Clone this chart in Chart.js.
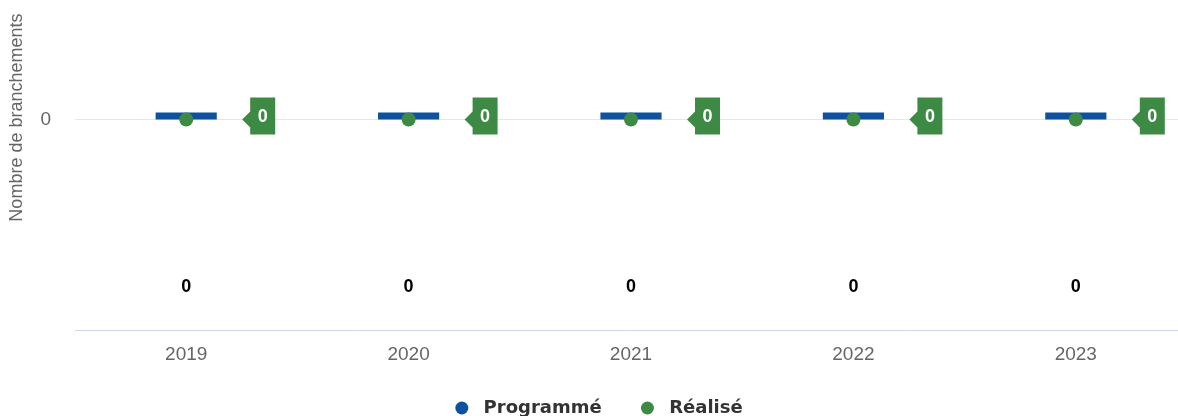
<!DOCTYPE html>
<html>
<head>
<meta charset="utf-8">
<script src="https://cdn.jsdelivr.net/npm/chart.js@4/dist/chart.umd.min.js"></script>
<style>
  html, body { margin: 0; padding: 0; background: #fff; overflow: hidden; }
  #wrap { width: 1194px; height: 416px; position: relative; }
</style>
</head>
<body>
<div id="wrap"><canvas id="c"></canvas></div>
<script>
const categories = ['2019', '2020', '2021', '2022', '2023'];
const programme = [0, 0, 0, 0, 0];
const realise = [0, 0, 0, 0, 0];
const yTicks = [0];
const yTitle = 'Nombre de branchements';

const BLUE = '#0d51a1';
const GREEN = '#3d8a45';
const FONT = '"Liberation Sans", Arial, Helvetica, sans-serif';

const overlay = {
  id: 'overlay',
  beforeDatasetDraw(chart, args) {
    if (args.index === 0) {
      chart.ctx.save();
      chart.ctx.translate(0, -3.5);
    }
  },
  afterDatasetDraw(chart, args) {
    if (args.index === 0) chart.ctx.restore();
  },
  afterDraw(chart) {
    const ctx = chart.ctx;
    const y0 = chart.scales.y.getPixelForValue(0);
    ctx.save();
    ctx.translate(17, y0 - 2);
    ctx.rotate(-Math.PI / 2);
    ctx.font = '18px ' + FONT;
    ctx.fillStyle = '#666';
    ctx.textAlign = 'center';
    ctx.textBaseline = 'middle';
    ctx.fillText(yTitle, 0, 0);
    ctx.restore();
  },
  afterDatasetsDraw(chart) {
    const ctx = chart.ctx;
    const area = chart.chartArea;
    const m0 = chart.getDatasetMeta(0);
    ctx.save();
    ctx.font = 'bold 18px ' + FONT;
    ctx.fillStyle = '#000';
    ctx.textAlign = 'center';
    ctx.textBaseline = 'middle';
    m0.data.forEach((el, i) => {
      const x = chart.scales.x.getPixelForValue(i);
      ctx.fillText(String(programme[i]), x, area.bottom - 43);
    });
    const m1 = chart.getDatasetMeta(1);
    m1.data.forEach((el, i) => {
      const px = el.x, py = el.y;
      const left = px + 64, right = px + 89, top = py - 22, bottom = py + 15;
      ctx.fillStyle = GREEN;
      ctx.beginPath();
      ctx.moveTo(left, top);
      ctx.lineTo(right, top);
      ctx.lineTo(right, bottom);
      ctx.lineTo(left, bottom);
      ctx.lineTo(left, py + 8);
      ctx.lineTo(px + 56, py);
      ctx.lineTo(left, py - 8);
      ctx.closePath();
      ctx.fill();
      ctx.fillStyle = '#fff';
      ctx.font = 'bold 18px ' + FONT;
      ctx.fillText(String(realise[i]), (left + right) / 2, py - 3);
    });
    ctx.restore();
  }
};

new Chart(document.getElementById('c'), {
  data: {
    labels: categories,
    datasets: [
      {
        type: 'bar',
        label: 'Programmé',
        data: programme,
        backgroundColor: BLUE,
        borderWidth: 0,
        barPercentage: 1,
        categoryPercentage: 0.275,
        minBarLength: 7,
        order: 1
      },
      {
        type: 'line',
        label: 'Réalisé',
        data: realise,
        showLine: false,
        pointRadius: 7,
        pointBackgroundColor: GREEN,
        pointBorderColor: GREEN,
        backgroundColor: GREEN,
        borderColor: GREEN,
        pointBorderWidth: 0,
        order: 0
      }
    ]
  },
  options: {
    responsive: true,
    maintainAspectRatio: false,
    animation: false,
    layout: { padding: { top: 0, right: 1, left: 5, bottom: -11 } },
    plugins: {
      tooltip: { enabled: false },
      legend: {
        position: 'bottom',
        labels: {
          usePointStyle: true,
          pointStyle: 'circle',
          boxHeight: 9.2,
          pointStyleWidth: 13,
          padding: 33,
          color: '#333',
          font: { family: '"DejaVu Sans", sans-serif', size: 18, weight: 'bold' },
          sort: (a, b) => a.datasetIndex - b.datasetIndex,
          generateLabels(chart) {
            const items = Chart.defaults.plugins.legend.labels.generateLabels(chart);
            items.forEach(it => {
              it.text = ' ' + it.text + (it.datasetIndex === 0 ? ' ' : '');
              it.lineWidth = 0;
            });
            return items;
          }
        }
      }
    },
    scales: {
      x: {
        offset: true,
        grid: { display: false, drawTicks: false },
        border: { display: true, color: '#ccd6eb', width: 1 },
        ticks: { color: '#666', font: { family: FONT, size: 19 }, padding: 13 },
        afterFit(axis) { axis.height = 36; }
      },
      y: {
        min: -1,
        max: 0.4,
        afterBuildTicks(axis) { axis.ticks = yTicks.map(v => ({ value: v })); },
        afterFit(axis) { axis.width = 70; },
        grid: { color: '#e6e6e6', drawTicks: false },
        border: { display: false },
        ticks: { color: '#666', font: { family: FONT, size: 19 }, padding: 24 }
      }
    }
  },
  plugins: [overlay]
});
</script>
</body>
</html>
